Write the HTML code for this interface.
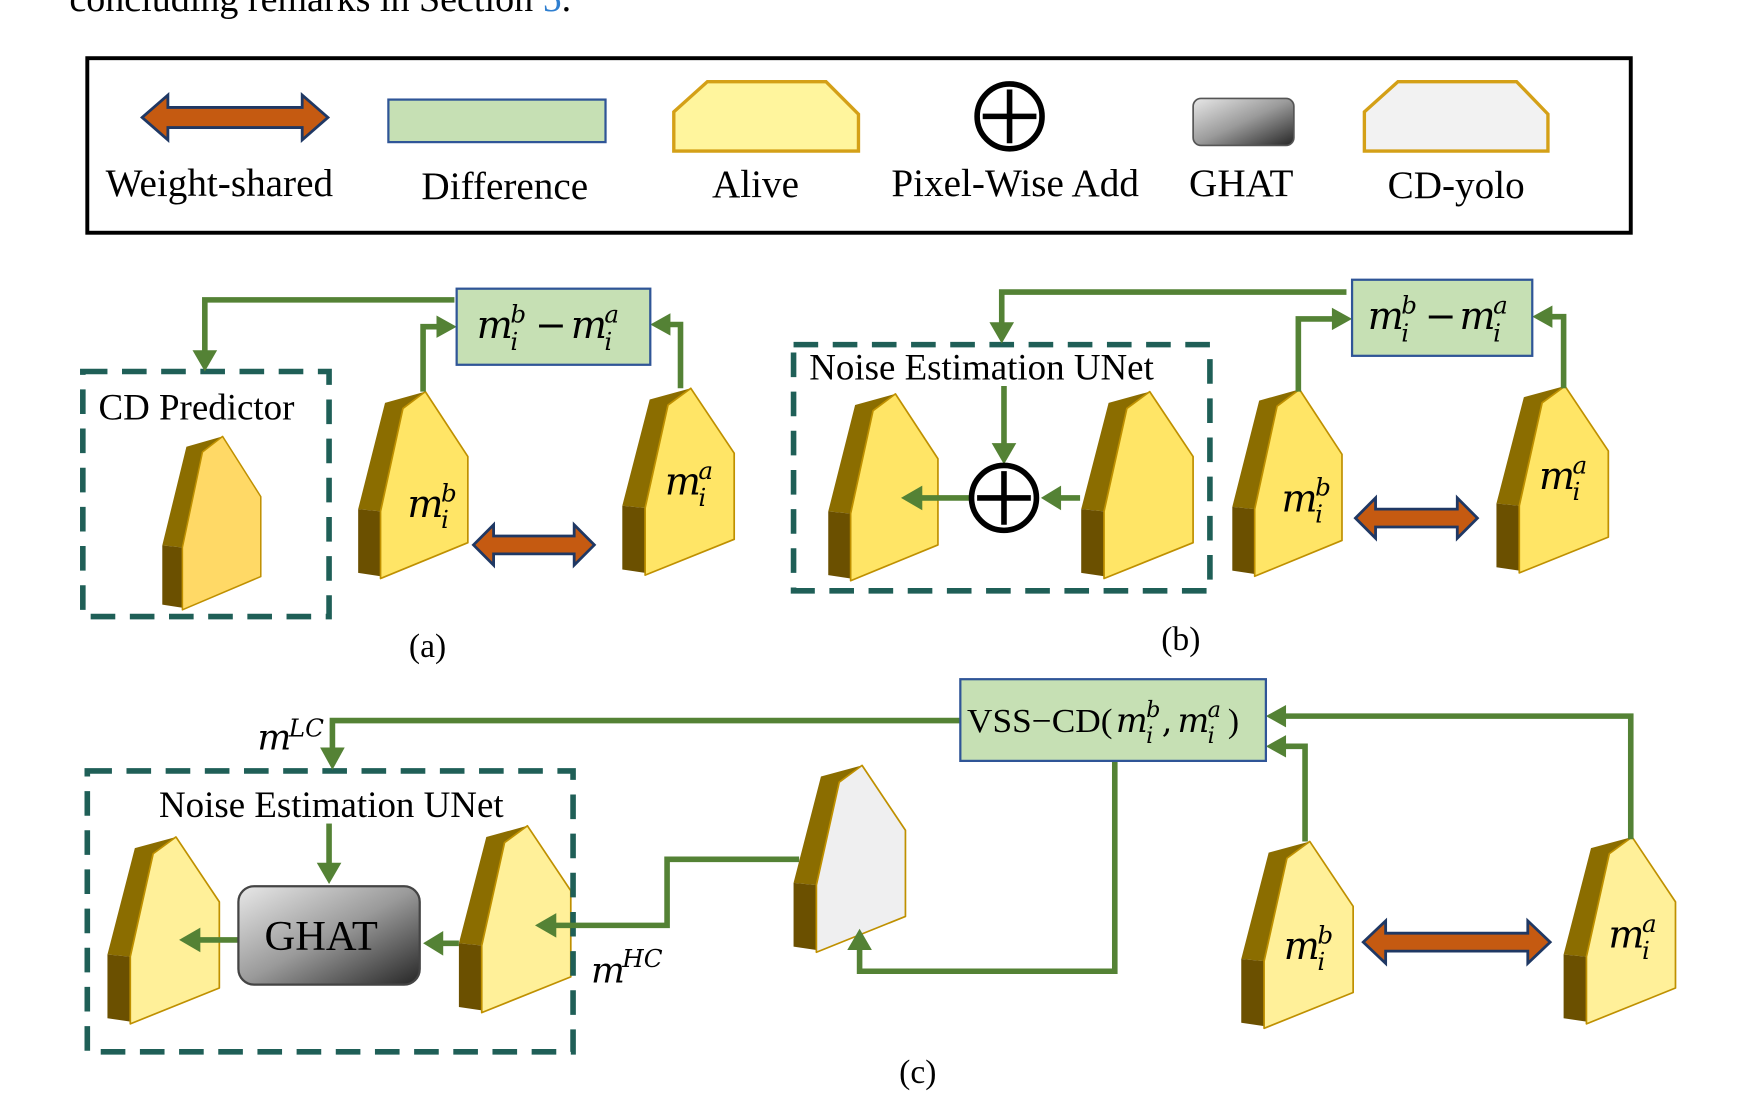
<!DOCTYPE html>
<html><head><meta charset="utf-8"><style>html,body{margin:0;padding:0;background:#fff}svg{display:block}</style></head>
<body>
<svg width="1755" height="1110" viewBox="0 0 1568 992" preserveAspectRatio="none" xmlns="http://www.w3.org/2000/svg" font-family="Liberation Serif, serif">
<defs>
<linearGradient id="gh" x1="0" y1="0" x2="1" y2="1"><stop offset="0" stop-color="#e8e8e8"/><stop offset="0.5" stop-color="#9a9a9a"/><stop offset="1" stop-color="#262626"/></linearGradient>
</defs>
<text x="62" y="10" font-size="34">concluding remarks in Section <tspan fill="#2f7fd0">5</tspan>.</text>

<!-- legend -->
<rect x="78" y="52" width="1379" height="156" fill="#fff" stroke="#000" stroke-width="3.5"/>
<polygon points="127,105 150,85 150,96 270,96 270,85 293,105 270,125 270,114 150,114 150,125" fill="#c55a11" stroke="#1f3864" stroke-width="2.5"/>
<rect x="347" y="89" width="194" height="38" fill="#c6e0b4" stroke="#2f5597" stroke-width="2"/>
<polygon points="602,135 602,100 632,73 738,73 767,102 767,135" fill="#fff59d" stroke="#d4a017" stroke-width="3"/>
<circle cx="902" cy="104" r="29" fill="#fff" stroke="#000" stroke-width="5"/>
<line x1="902" y1="80" x2="902" y2="128" stroke="#000" stroke-width="5"/><line x1="878" y1="104" x2="926" y2="104" stroke="#000" stroke-width="5"/>
<rect x="1066" y="88" width="90" height="42" rx="7" fill="url(#gh)" stroke="#555" stroke-width="1.5"/>
<polygon points="1219,135 1219,100 1249,73 1355,73 1383,102 1383,135" fill="#f2f2f2" stroke="#d4a017" stroke-width="3"/>
<g font-size="35" text-anchor="middle">
<text x="196" y="175">Weight-shared</text><text x="451" y="178">Difference</text><text x="675" y="176">Alive</text>
<text x="907" y="175">Pixel-Wise Add</text><text x="1109" y="175">GHAT</text><text x="1301" y="177">CD-yolo</text>
</g>

<!-- blocks -->
<g stroke-linejoin="round">
<g transform="translate(145,390) scale(0.898,0.928)"><polygon points="0,105 24,10 60,0 40,15 20,107" fill="#8b6d00"/><polygon points="0,105 20,107 20,165 0,162" fill="#6b5000"/><polygon points="20,107 40,15 60,0 98,58 98,135 20,167" fill="#ffd966" stroke="#bf9000" stroke-width="1.5"/></g>
<g transform="translate(320,350)"><polygon points="0,105 24,10 60,0 40,15 20,107" fill="#8b6d00"/><polygon points="0,105 20,107 20,165 0,162" fill="#6b5000"/><polygon points="20,107 40,15 60,0 98,58 98,135 20,167" fill="#ffe566" stroke="#bf9000" stroke-width="1.5"/></g>
<g transform="translate(556,347) scale(1.02,1)"><polygon points="0,105 24,10 60,0 40,15 20,107" fill="#8b6d00"/><polygon points="0,105 20,107 20,165 0,162" fill="#6b5000"/><polygon points="20,107 40,15 60,0 98,58 98,135 20,167" fill="#ffe566" stroke="#bf9000" stroke-width="1.5"/></g>
<g transform="translate(740,352)"><polygon points="0,105 24,10 60,0 40,15 20,107" fill="#8b6d00"/><polygon points="0,105 20,107 20,165 0,162" fill="#6b5000"/><polygon points="20,107 40,15 60,0 98,58 98,135 20,167" fill="#ffe566" stroke="#bf9000" stroke-width="1.5"/></g>
<g transform="translate(966,350) scale(1.02,1)"><polygon points="0,105 24,10 60,0 40,15 20,107" fill="#8b6d00"/><polygon points="0,105 20,107 20,165 0,162" fill="#6b5000"/><polygon points="20,107 40,15 60,0 98,58 98,135 20,167" fill="#ffe566" stroke="#bf9000" stroke-width="1.5"/></g>
<g transform="translate(1101,348)"><polygon points="0,105 24,10 60,0 40,15 20,107" fill="#8b6d00"/><polygon points="0,105 20,107 20,165 0,162" fill="#6b5000"/><polygon points="20,107 40,15 60,0 98,58 98,135 20,167" fill="#ffe566" stroke="#bf9000" stroke-width="1.5"/></g>
<g transform="translate(1337,345) scale(1.02,1)"><polygon points="0,105 24,10 60,0 40,15 20,107" fill="#8b6d00"/><polygon points="0,105 20,107 20,165 0,162" fill="#6b5000"/><polygon points="20,107 40,15 60,0 98,58 98,135 20,167" fill="#ffe566" stroke="#bf9000" stroke-width="1.5"/></g>
<g transform="translate(96,748) scale(1.02,1)"><polygon points="0,105 24,10 60,0 40,15 20,107" fill="#8b6d00"/><polygon points="0,105 20,107 20,165 0,162" fill="#6b5000"/><polygon points="20,107 40,15 60,0 98,58 98,135 20,167" fill="#fff099" stroke="#bf9000" stroke-width="1.5"/></g>
<g transform="translate(410,738) scale(1.02,1)"><polygon points="0,105 24,10 60,0 40,15 20,107" fill="#8b6d00"/><polygon points="0,105 20,107 20,165 0,162" fill="#6b5000"/><polygon points="20,107 40,15 60,0 98,58 98,135 20,167" fill="#fff099" stroke="#bf9000" stroke-width="1.5"/></g>
<g transform="translate(709,684) scale(1.02,1)"><polygon points="0,105 24,10 60,0 40,15 20,107" fill="#8b6d00"/><polygon points="0,105 20,107 20,165 0,162" fill="#6b5000"/><polygon points="20,107 40,15 60,0 98,58 98,135 20,167" fill="#efeff0" stroke="#bf9000" stroke-width="1.5"/></g>
<g transform="translate(1109,752) scale(1.02,1)"><polygon points="0,105 24,10 60,0 40,15 20,107" fill="#8b6d00"/><polygon points="0,105 20,107 20,165 0,162" fill="#6b5000"/><polygon points="20,107 40,15 60,0 98,58 98,135 20,167" fill="#fff099" stroke="#bf9000" stroke-width="1.5"/></g>
<g transform="translate(1397,748) scale(1.02,1)"><polygon points="0,105 24,10 60,0 40,15 20,107" fill="#8b6d00"/><polygon points="0,105 20,107 20,165 0,162" fill="#6b5000"/><polygon points="20,107 40,15 60,0 98,58 98,135 20,167" fill="#fff099" stroke="#bf9000" stroke-width="1.5"/></g>
</g>

<!-- dashed boxes -->
<g fill="none" stroke="#1f5f57" stroke-width="5" stroke-dasharray="22 13">
<rect x="74" y="332" width="220" height="219"/>
<rect x="709" y="308" width="372" height="220"/>
<rect x="78" y="689" width="434" height="251"/>
</g>

<!-- green lines -->
<g fill="none" stroke="#548235" stroke-width="5">
<polyline points="406,268 183,268 183,315"/>
<polyline points="378,350 378,292 392,292"/>
<polyline points="608,347 608,290 597,290"/>
<polyline points="1203,261 895,261 895,290"/>
<line x1="897" y1="345" x2="897" y2="398"/>
<line x1="866" y1="445" x2="822" y2="445"/>
<line x1="965" y1="445" x2="946" y2="445"/>
<polyline points="1160,350 1160,285 1192,285"/>
<polyline points="1397,347 1397,283 1385,283"/>
<polyline points="858,644 297,644 297,670"/>
<line x1="294" y1="736" x2="294" y2="773"/>
<line x1="213" y1="840" x2="177" y2="840"/>
<line x1="410" y1="843" x2="394" y2="843"/>
<polyline points="714,768 596,768 596,827 495,827"/>
<polyline points="996,680 996,868 768,868 768,847"/>
<polyline points="1166,752 1166,667 1147,667"/>
<polyline points="1457,750 1457,640 1147,640"/>
</g>
<g fill="#548235">
<polygon points="172,313 194,313 183,332"/>
<polygon points="390,282 408,292 390,302"/>
<polygon points="599,280 581,290 599,300"/>
<polygon points="884,288 906,288 895,307"/>
<polygon points="886,396 908,396 897,415"/>
<polygon points="824,434 824,456 805,445"/>
<polygon points="948,434 948,456 930,445"/>
<polygon points="1190,275 1208,285 1190,295"/>
<polygon points="1387,273 1369,283 1387,293"/>
<polygon points="286,668 308,668 297,688"/>
<polygon points="283,771 305,771 294,790"/>
<polygon points="179,829 179,851 160,840"/>
<polygon points="396,832 396,854 378,843"/>
<polygon points="497,816 497,838 478,827"/>
<polygon points="757,849 779,849 768,830"/>
<polygon points="1149,657 1149,677 1131,667"/>
<polygon points="1149,630 1149,650 1131,640"/>
</g>

<!-- diff boxes -->
<rect x="408" y="258" width="173" height="68" fill="#c6e0b4" stroke="#2f5597" stroke-width="2"/>
<rect x="1208" y="250" width="161" height="68" fill="#c6e0b4" stroke="#2f5597" stroke-width="2"/>
<rect x="858" y="607" width="273" height="73" fill="#c6e0b4" stroke="#2f5597" stroke-width="2"/>

<!-- circle plus (b) -->
<circle cx="897" cy="445" r="29" fill="#fff" stroke="#000" stroke-width="5"/>
<line x1="897" y1="421" x2="897" y2="469" stroke="#000" stroke-width="5"/><line x1="873" y1="445" x2="921" y2="445" stroke="#000" stroke-width="5"/>

<!-- GHAT -->
<rect x="213" y="792" width="162" height="88" rx="14" fill="url(#gh)" stroke="#444" stroke-width="2"/>
<text x="287" y="849" font-size="38" text-anchor="middle">GHAT</text>

<!-- double arrows -->
<g fill="#c55a11" stroke="#1f3864" stroke-width="2.5">
<polygon points="423,487 441,469 441,479 513,479 513,469 531,487 513,505 513,495 441,495 441,505"/>
<polygon points="1211,463 1229,445 1229,455 1302,455 1302,445 1320,463 1302,481 1302,471 1229,471 1229,481"/>
<polygon points="1218,842 1238,823 1238,834 1365,834 1365,823 1385,842 1365,861 1365,850 1238,850 1238,861"/>
</g>

<!-- texts -->
<g font-size="33">
<text x="88" y="375">CD Predictor</text>
<text x="723" y="339">Noise Estimation UNet</text>
<text x="296" y="730" text-anchor="middle">Noise Estimation UNet</text>
<text x="382" y="587" text-anchor="middle" font-size="30">(a)</text>
<text x="1055" y="581" text-anchor="middle" font-size="30">(b)</text>
<text x="820" y="968" text-anchor="middle" font-size="30">(c)</text>
</g>

<!-- math labels -->
<g font-family="DejaVu Serif, Liberation Serif, serif" font-style="italic">
<text x="426" y="302" font-size="34">m</text><text x="456" y="288" font-size="22">b</text><text x="456" y="313" font-size="22">i</text>
<text x="478" y="302" font-size="34" font-style="normal">−</text>
<text x="510" y="302" font-size="34">m</text><text x="540" y="288" font-size="22">a</text><text x="540" y="313" font-size="22">i</text>
<text x="1222" y="294" font-size="34">m</text><text x="1252" y="280" font-size="22">b</text><text x="1252" y="305" font-size="22">i</text>
<text x="1273" y="294" font-size="34" font-style="normal">−</text>
<text x="1304" y="294" font-size="34">m</text><text x="1334" y="280" font-size="22">a</text><text x="1334" y="305" font-size="22">i</text>
<text x="864" y="654" font-size="30" font-style="normal" font-family="Liberation Serif, serif" textLength="130" lengthAdjust="spacingAndGlyphs">VSS−CD(</text>
<text x="997" y="654" font-size="30">m</text><text x="1024" y="641" font-size="20">b</text><text x="1024" y="664" font-size="20">i</text>
<text x="1038" y="654" font-size="30" font-style="normal">,</text>
<text x="1052" y="654" font-size="30">m</text><text x="1079" y="641" font-size="20">a</text><text x="1079" y="664" font-size="20">i</text>
<text x="1097" y="654" font-size="30" font-style="normal" font-family="Liberation Serif, serif">)</text>
<text x="364" y="462" font-size="34">m</text><text x="394" y="448" font-size="22">b</text><text x="394" y="472" font-size="22">i</text>
<text x="594" y="442" font-size="34">m</text><text x="624" y="428" font-size="22">a</text><text x="624" y="452" font-size="22">i</text>
<text x="1145" y="457" font-size="34">m</text><text x="1175" y="443" font-size="22">b</text><text x="1175" y="467" font-size="22">i</text>
<text x="1375" y="437" font-size="34">m</text><text x="1405" y="423" font-size="22">a</text><text x="1405" y="447" font-size="22">i</text>
<text x="1147" y="857" font-size="34">m</text><text x="1177" y="843" font-size="22">b</text><text x="1177" y="867" font-size="22">i</text>
<text x="1437" y="847" font-size="34">m</text><text x="1467" y="833" font-size="22">a</text><text x="1467" y="857" font-size="22">i</text>
<text x="230" y="670" font-size="32">m</text><text x="258" y="658" font-size="22">LC</text>
<text x="528" y="878" font-size="32">m</text><text x="556" y="864" font-size="22">HC</text>
</g>
</svg>
</body></html>
